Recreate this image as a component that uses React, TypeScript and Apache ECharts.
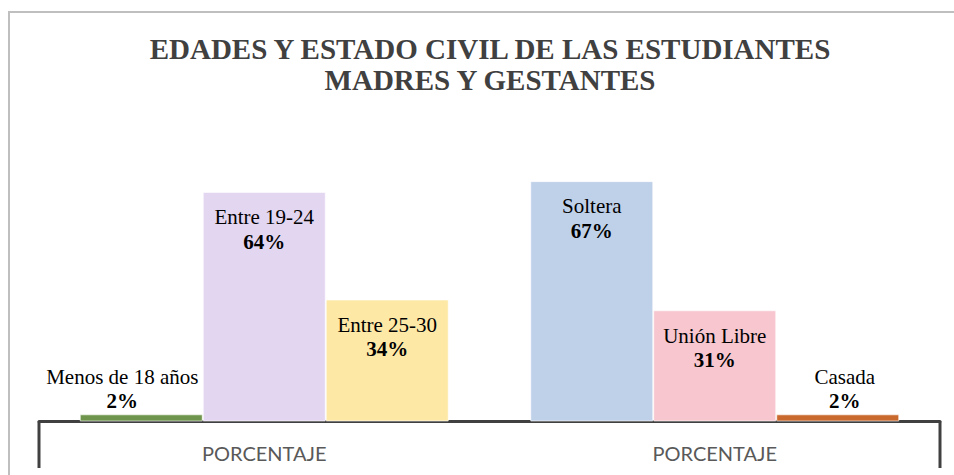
import React, { useEffect, useRef } from "react";
import * as echarts from "echarts";

const titleLines = ["EDADES Y ESTADO CIVIL DE LAS ESTUDIANTES", "MADRES Y GESTANTES"];
const categories = ["PORCENTAJE", "PORCENTAJE"];
const ageNames = ["Menos de 18 años", "Entre 19-24", "Entre 25-30"];
const ageValues = [2, 64, 34];
const civilNames = ["Soltera", "Unión Libre", "Casada"];
const civilValues = [67, 31, 2];

const ageColors = ["#6f954c", "#e3d6f1", "#fee8a6"];
const civilColors = ["#bfd0e9", "#f7c6cf", "#c9692e"];
const smallOffsets = [[-19, 0], [7, 0]];

const SERIF = "'Liberation Serif', 'Times New Roman', serif";
const GRID = { left: 39, right: 14, top: 134.5, bottom: 53.5 };
const W = 954;
const H = 475;

export default function App() {
  const ref = useRef<HTMLDivElement>(null);
  useEffect(() => {
    if (!ref.current) return;
    const chart = echarts.init(ref.current, null, { renderer: "svg" });
    const groups = [
      { names: ageNames, values: ageValues, colors: ageColors },
      { names: civilNames, values: civilValues, colors: civilColors },
    ];
    const series = [0, 1, 2].map((slot) => ({
      type: "bar",
      barGap: "0%",
      barCategoryGap: "18.1%",
      data: groups.map((g, gi) => {
        const v = g.values[slot];
        const small = v < 10;
        return {
          value: v,
          itemStyle: { color: g.colors[slot], borderColor: "rgba(255,255,255,0.6)", borderWidth: 1 },
          label: {
            show: true,
            position: small ? "top" : "insideTop",
            distance: small ? 1 : 13,
            offset: small ? smallOffsets[gi] : [0, 0],
            formatter: () => `{n|${g.names[slot]}}\n{v|${v}%}`,
            rich: {
              n: { fontFamily: SERIF, fontSize: 21, color: "#000", lineHeight: 24.5 },
              v: { fontFamily: SERIF, fontSize: 21, fontWeight: "bold", color: "#000", lineHeight: 24.5 },
            },
          },
        };
      }),
    }));
    const baseY = H - GRID.bottom;
    chart.setOption({
      animation: false,
      backgroundColor: "#fff",
      graphic: [
        {
          type: "rect",
          shape: { x: 9, y: 12, width: 980, height: 500 },
          style: { fill: "none", stroke: "#bfbfbf", lineWidth: 2 },
          silent: true,
        },
        {
          type: "text",
          x: 490,
          y: 33,
          style: {
            text: titleLines.join("\n"),
            textAlign: "center",
            textVerticalAlign: "top",
            fontFamily: SERIF,
            fontSize: 29,
            fontWeight: "bold",
            lineHeight: 31.5,
            fill: "#404040",
          },
        },
        {
          type: "line",
          shape: { x1: GRID.left, y1: baseY, x2: GRID.left, y2: baseY + 46.5 },
          style: { stroke: "#404040", lineWidth: 3 },
          silent: true,
        },
        {
          type: "line",
          shape: { x1: W - GRID.right, y1: baseY, x2: W - GRID.right, y2: baseY + 46.5 },
          style: { stroke: "#404040", lineWidth: 3 },
          silent: true,
        },
      ],
      grid: { ...GRID, containLabel: false },
      xAxis: {
        type: "category",
        data: categories,
        axisLine: { show: true, lineStyle: { color: "#404040", width: 3 } },
        axisTick: { show: false },
        axisLabel: { interval: 0, margin: 21, fontFamily: "Lato", fontSize: 20, color: "#595959" },
      },
      yAxis: { type: "value", min: 0, max: 80, show: false, splitLine: { show: false } },
      series,
    });
    return () => chart.dispose();
  }, []);
  return <div ref={ref} style={{ position: "absolute", left: 0, top: 0, width: W, height: H }} />;
}
